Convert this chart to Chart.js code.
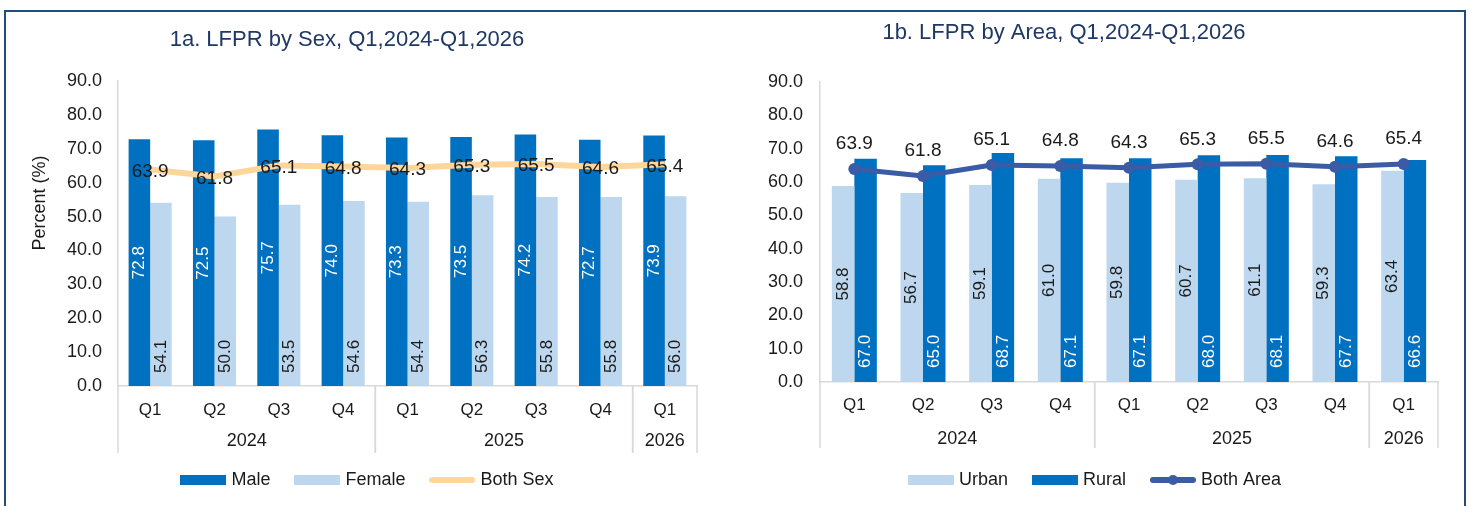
<!DOCTYPE html>
<html>
<head>
<meta charset="utf-8">
<script src="https://cdn.jsdelivr.net/npm/chart.js@4.4.1/dist/chart.umd.min.js"></script>
<style>
  html, body { margin: 0; padding: 0; background: #fff; }
  body { width: 1473px; height: 506px; position: relative; overflow: hidden; }
  #frame { position: absolute; left: 4px; top: 10px; width: 1462px; height: 520px; border: 2px solid #1F4E79; box-sizing: border-box; }
  canvas { position: absolute; top: 0; }
  #chartA { left: 0; }
  #chartB { left: 736px; }
</style>
</head>
<body>
<div id="frame"></div>
<canvas id="chartA" width="736" height="506"></canvas>
<canvas id="chartB" width="737" height="506"></canvas>
<script>
// values
var quarters = ['Q1', 'Q2', 'Q3', 'Q4', 'Q1', 'Q2', 'Q3', 'Q4', 'Q1'];
var years = ['2024', '2025', '2026'];
var yearSpans = [4, 4, 1];

var maleLFPR = [72.8, 72.5, 75.7, 74.0, 73.3, 73.5, 74.2, 72.7, 73.9];
var femaleLFPR = [54.1, 50.0, 53.5, 54.6, 54.4, 56.3, 55.8, 55.8, 56.0];
var bothSexLFPR = [63.9, 61.8, 65.1, 64.8, 64.3, 65.3, 65.5, 64.6, 65.4];

var urbanLFPR = [58.8, 56.7, 59.1, 61.0, 59.8, 60.7, 61.1, 59.3, 63.4];
var ruralLFPR = [67.0, 65.0, 68.7, 67.1, 67.1, 68.0, 68.1, 67.7, 66.6];
var bothAreaLFPR = [63.9, 61.8, 65.1, 64.8, 64.3, 65.3, 65.5, 64.6, 65.4];

var FONT = '"Liberation Sans", Arial, sans-serif';
var DARK = '#0070C0', LIGHT = '#BDD7EE', ORANGE = '#FFD699', NAVY = '#3A5BA5';
var GRID = '#D9D9D9', INK = '#1a1a1a', TITLE = '#1F3864';

Chart.defaults.font.family = FONT;
Chart.defaults.color = INK;

// small canvas used as the legend marker
function swatch(kind, color) {
    var c = document.createElement('canvas');
    c.width = 46; c.height = 14;
    var g = c.getContext('2d');
    if (kind === 'bar') {
        g.fillStyle = color;
        g.fillRect(0, 2, 46, 10);
    } else {
        g.strokeStyle = color;
        g.lineWidth = 6;
        g.lineCap = 'round';
        g.beginPath(); g.moveTo(3, 7); g.lineTo(43, 7); g.stroke();
        if (kind === 'marker') {
            g.fillStyle = color;
            g.beginPath(); g.arc(23, 7, 5, 0, Math.PI * 2); g.fill();
        }
    }
    return c;
}

function legendItems(chart) {
    return chart.data.datasets.map(function(ds, i) {
        return {
            text: ds.label, pointStyle: ds.swatch, datasetIndex: i,
            fillStyle: 'transparent', strokeStyle: 'transparent', lineWidth: 0,
            hidden: false, fontColor: INK
        };
    });
}

// value labels on bars and line points
var valueLabels = {
    id: 'valueLabels',
    afterDatasetsDraw: function(chart) {
        var ctx = chart.ctx;
        chart.data.datasets.forEach(function(ds, di) {
            var lab = ds.valueLabel;
            if (!lab) return;
            chart.getDatasetMeta(di).data.forEach(function(el, i) {
                var txt = ds.data[i].toFixed(1);
                ctx.save();
                ctx.fillStyle = lab.color;
                ctx.font = lab.size + 'px ' + FONT;
                ctx.textBaseline = 'middle';
                if (lab.at === 'center' || lab.at === 'base') {
                    var yy = lab.at === 'center' ? (el.y + el.base) / 2 : el.base - lab.gap;
                    ctx.translate(el.x, yy);
                    ctx.rotate(-Math.PI / 2);
                    ctx.textAlign = lab.at === 'center' ? 'center' : 'left';
                    ctx.fillText(txt, 0, 0);
                } else {
                    ctx.textAlign = 'center';
                    ctx.fillText(txt, el.x, el.y + lab.dy);
                }
                ctx.restore();
            });
        });
    }
};

// title, y title, year rows and group separators
var panelDecor = {
    id: 'panelDecor',
    afterDraw: function(chart, args, o) {
        var ctx = chart.ctx, x = chart.scales.x;
        ctx.save();
        ctx.textAlign = 'center';
        ctx.textBaseline = 'middle';
        ctx.fillStyle = TITLE;
        ctx.font = '22px ' + FONT;
        ctx.fillText(o.title, o.titleX, o.titleY);

        if (o.yTitle) {
            ctx.save();
            ctx.translate(o.yTitleX, o.yTitleY);
            ctx.rotate(-Math.PI / 2);
            ctx.fillStyle = INK;
            ctx.font = '18px ' + FONT;
            ctx.fillText(o.yTitle, 0, 0);
            ctx.restore();
        }

        var half = (x.getPixelForValue(1) - x.getPixelForValue(0)) / 2;
        var start = 0;
        var bottom = x.top + o.sepDepth;
        ctx.strokeStyle = GRID;
        ctx.lineWidth = 1.5;
        ctx.fillStyle = INK;
        ctx.font = '18px ' + FONT;
        years.forEach(function(yr, i) {
            var end = start + yearSpans[i] - 1;
            var l = x.getPixelForValue(start) - half;
            var r = x.getPixelForValue(end) + half;
            ctx.fillText(yr, (l + r) / 2, x.top + o.yearOffset);
            ctx.beginPath();
            ctx.moveTo(l, x.top); ctx.lineTo(l, bottom);
            ctx.moveTo(r, x.top); ctx.lineTo(r, bottom);
            ctx.stroke();
            start = end + 1;
        });
        ctx.restore();
    }
};

function makeOptions(p) {
    return {
        responsive: false,
        animation: false,
        layout: { padding: p.padding },
        plugins: {
            tooltip: { enabled: false },
            legend: {
                position: 'bottom',
                labels: {
                    usePointStyle: true, pointStyleWidth: 38, padding: 28,
                    font: { size: 18 }, color: INK, generateLabels: legendItems
                }
            },
            panelDecor: p.decor
        },
        scales: {
            x: {
                grid: { display: false, drawTicks: false, tickLength: 0 },
                border: { color: GRID, width: 1.5 },
                ticks: { padding: p.xPad, font: { size: 17 }, color: INK, maxRotation: 0, autoSkip: false },
                afterFit: function(s) { s.height = p.xHeight; }
            },
            y: {
                min: 0, max: 90,
                grid: { display: false, drawTicks: false, tickLength: 0 },
                border: { color: GRID, width: 1.5 },
                ticks: {
                    stepSize: 10, padding: p.yPad, font: { size: 18 }, color: INK,
                    callback: function(v) { return v.toFixed(1); }
                },
                afterFit: function(s) { s.width = p.yWidth; }
            }
        }
    };
}

new Chart(document.getElementById('chartA'), {
    type: 'bar',
    data: {
        labels: quarters,
        datasets: [
            { label: 'Male', data: maleLFPR, backgroundColor: DARK, categoryPercentage: 0.67, barPercentage: 1,
              order: 2, swatch: swatch('bar', DARK), valueLabel: { at: 'center', color: '#fff', size: 17 } },
            { label: 'Female', data: femaleLFPR, backgroundColor: LIGHT, categoryPercentage: 0.67, barPercentage: 1,
              order: 2, swatch: swatch('bar', LIGHT), valueLabel: { at: 'base', gap: 13, color: INK, size: 17 } },
            { type: 'line', label: 'Both Sex', data: bothSexLFPR, borderColor: ORANGE, backgroundColor: ORANGE,
              borderWidth: 6, pointRadius: 0, tension: 0, order: 1, swatch: swatch('line', ORANGE),
              valueLabel: { at: 'point', dy: 2, color: INK, size: 19 } }
        ]
    },
    options: makeOptions({
        padding: { left: 41, right: 39, top: 81, bottom: 7 },
        xHeight: 57, yWidth: 77, yPad: 16, xPad: 14,
        decor: { title: '1a. LFPR by Sex, Q1,2024-Q1,2026', titleX: 347, titleY: 40,
                 yTitle: 'Percent (%)', yTitleX: 40, yTitleY: 203, yearOffset: 55, sepDepth: 67 }
    }),
    plugins: [valueLabels, panelDecor]
});

new Chart(document.getElementById('chartB'), {
    type: 'bar',
    data: {
        labels: quarters,
        datasets: [
            { label: 'Urban', data: urbanLFPR, backgroundColor: LIGHT, categoryPercentage: 0.655, barPercentage: 1,
              order: 2, swatch: swatch('bar', LIGHT), valueLabel: { at: 'center', color: INK, size: 17 } },
            { label: 'Rural', data: ruralLFPR, backgroundColor: DARK, categoryPercentage: 0.655, barPercentage: 1,
              order: 2, swatch: swatch('bar', DARK), valueLabel: { at: 'base', gap: 14, color: '#fff', size: 17 } },
            { type: 'line', label: 'Both Area', data: bothAreaLFPR, borderColor: NAVY, backgroundColor: NAVY,
              borderWidth: 5, pointRadius: 6, pointBorderWidth: 0, pointBackgroundColor: NAVY, tension: 0, order: 1,
              swatch: swatch('marker', NAVY), valueLabel: { at: 'point', dy: -25, color: INK, size: 19 } }
        ]
    },
    options: makeOptions({
        padding: { left: 19, right: 35, top: 82, bottom: 7 },
        xHeight: 61, yWidth: 65, yPad: 17, xPad: 13,
        decor: { title: '1b. LFPR by Area, Q1,2024-Q1,2026', titleX: 328, titleY: 33,
                 yearOffset: 57, sepDepth: 66 }
    }),
    plugins: [valueLabels, panelDecor]
});
</script>
</body>
</html>
